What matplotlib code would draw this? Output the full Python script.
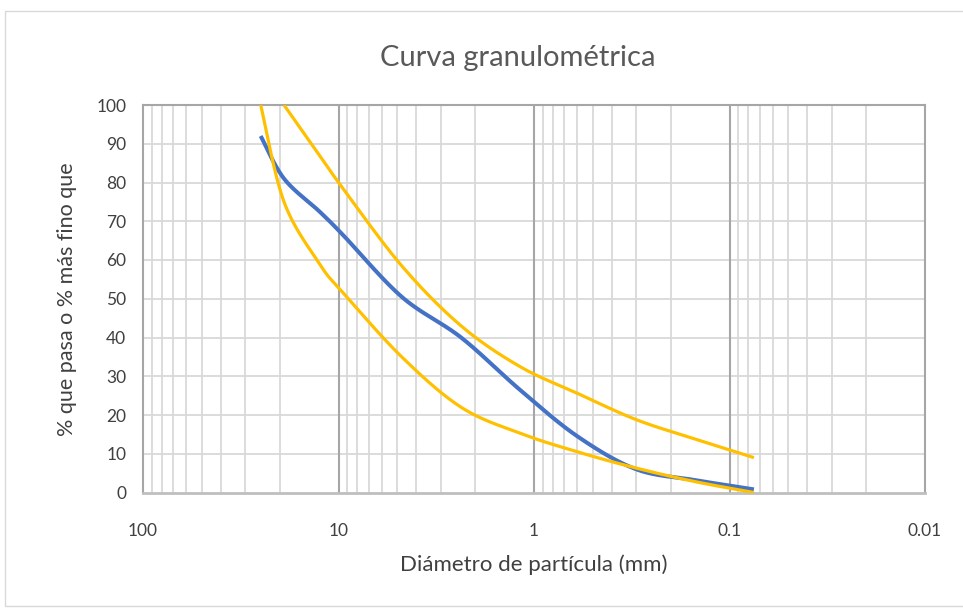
import numpy as np
import matplotlib
matplotlib.use("Agg")
import matplotlib.pyplot as plt
from matplotlib.patches import Rectangle
from matplotlib.ticker import FixedLocator, NullFormatter

plt.rcParams['font.family'] = ['Lato', 'DejaVu Sans']

# ---- data ----
sieves_mm = [25, 19, 12.5, 9.5, 4.75, 2.36, 1.18, 0.6, 0.3, 0.15, 0.075]
muestra = [92, 81, 72.5, 66.5, 50.5, 40, 26.5, 14.5, 6, 3.2, 0.8]
lim_sup_mm = [19, 12.5, 9.5, 4.75, 2.36, 1.18, 0.6, 0.3, 0.15, 0.075]
lim_sup = [100, 87, 78.5, 58.5, 43, 32.5, 25.6, 18.8, 13.8, 9]
lim_inf_mm = [25, 19, 12.5, 9.5, 4.75, 2.36, 1.18, 0.6, 0.3, 0.15, 0.075]
lim_inf = [100, 75, 59, 51.6, 35, 22, 15.3, 10.5, 6.3, 2.8, 0]
x_ticks = [100, 10, 1, 0.1, 0.01]
x_tick_labels = ["100", "10", "1", "0.1", "0.01"]
y_ticks = list(range(0, 101, 10))


def smooth(xs, ys, n=30):
    """Excel-like smoothed line (Catmull-Rom Bezier) in log-x space."""
    lx = np.log10(np.asarray(xs, float))
    y = np.asarray(ys, float)
    P = np.column_stack([lx, y])
    out = []
    m = len(P)
    for i in range(m - 1):
        p0 = P[i - 1] if i > 0 else P[i]
        p1 = P[i]
        p2 = P[i + 1]
        p3 = P[i + 2] if i + 2 < m else P[i + 1]
        c1 = p1 + (p2 - p0) / 6.0
        c2 = p2 - (p3 - p1) / 6.0
        t = np.linspace(0, 1, n)[:, None]
        seg = ((1 - t) ** 3) * p1 + 3 * ((1 - t) ** 2) * t * c1 + 3 * (1 - t) * t ** 2 * c2 + t ** 3 * p2
        out.append(seg if i == 0 else seg[1:])
    seg = np.vstack(out)
    return 10 ** seg[:, 0], seg[:, 1]


fig = plt.figure(figsize=(9.63, 6.10), dpi=100)
fig.patch.set_facecolor('white')
# chart border
fig.add_artist(Rectangle((5 / 963, 1 - 606 / 610), 1.0, (606 - 11) / 610,
                         transform=fig.transFigure, fill=False,
                         edgecolor='#d9d9d9', linewidth=1.0))

ax = fig.add_axes([143 / 963, 1 - 492.5 / 610, (925 - 143) / 963, (492.5 - 105) / 610])
ax.set_xscale('log')
ax.set_xlim(100, 0.01)
ax.set_ylim(0, 100)

# gridlines
minor = []
for dec in [10, 1, 0.1, 0.01]:
    for k in range(2, 10):
        minor.append(dec * k)
for v in minor:
    ax.axvline(v, color='#d9d9d9', lw=1.3, zorder=0)
for v in [10, 1, 0.1]:
    ax.axvline(v, color='#a6a6a6', lw=1.5, zorder=0.5)
for v in y_ticks[1:]:
    ax.axhline(v, color='#d9d9d9', lw=1.3, zorder=0)

xs, ys = smooth(lim_inf_mm, lim_inf)
ax.plot(xs, ys, color='#FFC000', lw=2.3, zorder=3, solid_capstyle='butt')
xs, ys = smooth(lim_sup_mm, lim_sup)
ax.plot(xs, ys, color='#FFC000', lw=2.3, zorder=3, solid_capstyle='butt')
xs, ys = smooth(sieves_mm, muestra)
ax.plot(xs, ys, color='#4472C4', lw=2.9, zorder=2, solid_capstyle='butt')

ax.xaxis.set_major_locator(FixedLocator(x_ticks))
ax.set_xticklabels(x_tick_labels)
ax.xaxis.set_minor_formatter(NullFormatter())
ax.set_yticks(y_ticks)
ax.tick_params(axis='both', which='both', length=0, labelsize=12.5, colors='#404040')
ax.tick_params(axis='x', pad=22)
ax.tick_params(axis='y', pad=12)

for s in ['top', 'right', 'left']:
    ax.spines[s].set_color('#a6a6a6')
    ax.spines[s].set_linewidth(1.5)
ax.spines['bottom'].set_color('#bfbfbf')
ax.spines['bottom'].set_linewidth(2.0)

ax.set_xlabel('Diámetro de partícula (mm)', fontsize=16, color='#404040', labelpad=11)
ax.set_ylabel('% que pasa o % más fino que', fontsize=15.5, color='#404040', labelpad=14)
fig.text(518 / 963, 1 - 58 / 610, 'Curva granulométrica', ha='center', va='center',
         fontsize=21, color='#595959')

fig.savefig('out.png', dpi=100, facecolor='white')
